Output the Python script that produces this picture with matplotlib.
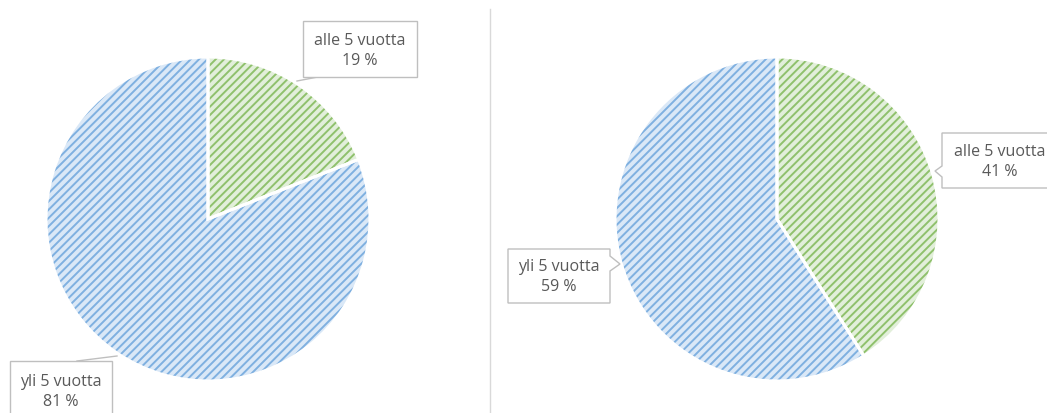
import matplotlib
matplotlib.use("Agg")
import matplotlib.pyplot as plt
from matplotlib.patches import Polygon, Rectangle

plt.rcParams['font.family'] = ['Open Sans', 'DejaVu Sans']
plt.rcParams['hatch.linewidth'] = 1.4

categories = ["alle 5 vuotta", "yli 5 vuotta"]
left_values = [19, 81]
right_values = [41, 59]

face_colors = ["#e2efda", "#dae8f7"]
hatch_colors = ["#8fc16c", "#7fb0e0"]
text_color = "#595959"
box_edge = "#bfbfbf"

W, H = 1047, 414
fig = plt.figure(figsize=(W / 100, H / 100), dpi=100)
ax = fig.add_axes([0, 0, 1, 1])
ax.set_xlim(0, W)
ax.set_ylim(0, H)
ax.set_aspect('equal')
ax.axis('off')

R = 162


def draw_pie(values, center):
    wedges, _ = ax.pie(values, center=center, radius=R, startangle=90,
                       counterclock=False, colors=face_colors,
                       wedgeprops=dict(linewidth=0, hatch='////'),
                       frame=True)
    for w, hc in zip(wedges, hatch_colors):
        w.set_edgecolor(hc)
        w.set_linewidth(0)
    ax.pie(values, center=center, radius=R, startangle=90,
           counterclock=False, colors=['none', 'none'],
           wedgeprops=dict(linewidth=2.2, edgecolor='white'), frame=True)


draw_pie(left_values, (208, 194))
draw_pie(right_values, (777, 194))
ax.set_xlim(0, W)
ax.set_ylim(0, H)
ax.axis('off')

# divider
ax.plot([490, 490], [0, 404], color="#d9d9d9", lw=1)


def label(text, cx, cy):
    ax.text(cx, cy, text, ha='center', va='center', fontsize=11.5,
            color=text_color, linespacing=1.3, zorder=6)


def box(x0, y0, x1, y1):
    ax.add_patch(Rectangle((x0, y0), x1 - x0, y1 - y0, facecolor='white',
                           edgecolor=box_edge, lw=1, zorder=5))


# left chart labels
box(303, 336, 417, 392)
ax.plot([297, 323], [332, 337], color=box_edge, lw=1, zorder=4)
label(f"{categories[0]}\n{left_values[0]} %", 360, 363)

box(10, -10, 112, 52)
ax.plot([77, 117], [52, 57], color=box_edge, lw=1, zorder=4)
label(f"{categories[1]}\n{left_values[1]} %", 61, 22)

# right chart labels (speech-bubble callouts)
ax.add_patch(Polygon([(942, 280), (1060, 280), (1060, 225), (942, 225),
                      (942, 236), (935, 242), (942, 247)], closed=True,
                     facecolor='white', edgecolor=box_edge, lw=1, zorder=5))
label(f"{categories[0]}\n{right_values[0]} %", 1000, 252)

ax.add_patch(Polygon([(508, 164), (610, 164), (610, 157), (620, 149),
                      (610, 142), (610, 110), (508, 110)], closed=True,
                     facecolor='white', edgecolor=box_edge, lw=1, zorder=5))
label(f"{categories[1]}\n{right_values[1]} %", 559, 137)

fig.savefig("out.png", dpi=100)
